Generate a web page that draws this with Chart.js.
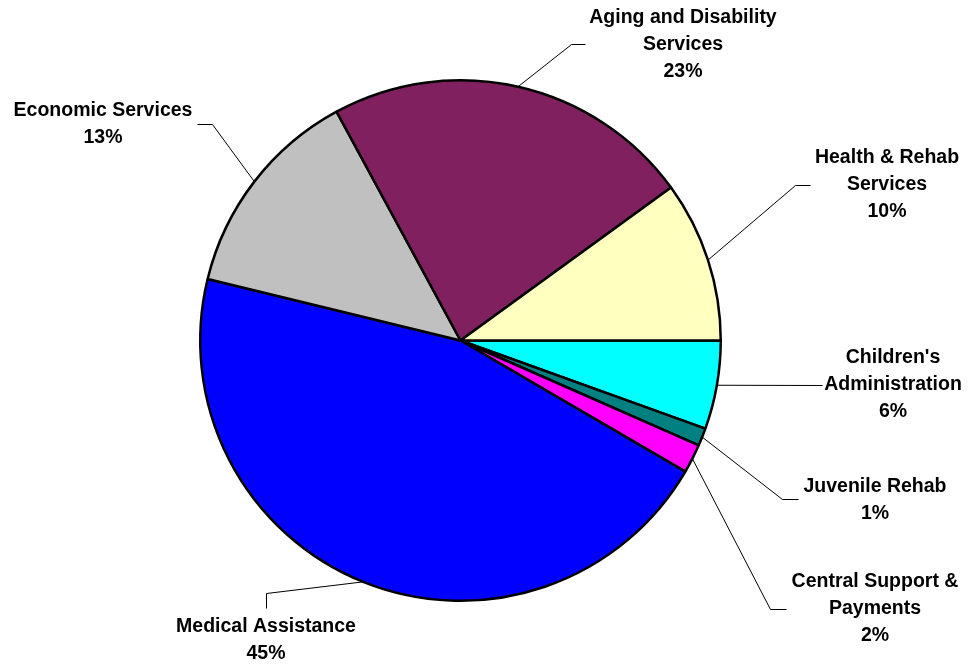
<!DOCTYPE html>
<html>
<head>
<meta charset="utf-8">
<script src="https://cdn.jsdelivr.net/npm/chart.js@4.4.1/dist/chart.umd.min.js"></script>
<style>
    html, body { margin: 0; padding: 0; background: #fff; }
    #wrap { width: 968px; height: 664px; }
</style>
</head>
<body>
<div id="wrap"><canvas id="budgetPie" width="968" height="664"></canvas></div>
<script>
// slices clockwise from 3 o'clock
const categories = [
    ["Children's", 'Administration'],
    ['Juvenile Rehab'],
    ['Central Support &', 'Payments'],
    ['Medical Assistance'],
    ['Economic Services'],
    ['Aging and Disability', 'Services'],
    ['Health & Rehab', 'Services'],
];
const shares = [5.5, 1.1, 1.8, 45.4, 13.3, 22.9, 10.0];
const sliceColors = ['#00FFFF', '#008080', '#FF00FF', '#0000FF', '#C0C0C0', '#80205F', '#FFFFC0'];

// where each label sits, and the bends of its leader line (from the slice edge outwards)
const labelSpots = [
    { x: 893, y: 358, bends: [[822, 385]] },
    { x: 875, y: 487, bends: [[782, 499], [798, 499]] },
    { x: 875, y: 582, bends: [[770, 609], [786, 609]] },
    { x: 266, y: 627, bends: [[266, 593], [266, 608]] },
    { x: 103, y: 111, bends: [[212, 124], [197, 124]] },
    { x: 683, y: 18,  bends: [[571, 44], [585, 44]] },
    { x: 887, y: 158, bends: [[795, 185], [810, 185]] },
];

const calloutPlugin = {
    id: 'callouts',
    afterDatasetsDraw(chart) {
        const ctx = chart.ctx;
        const meta = chart.getDatasetMeta(0);
        const total = shares.reduce((a, b) => a + b, 0);
        ctx.save();
        meta.data.forEach((arc, i) => {
            const spot = labelSpots[i];
            const p = arc.getProps(['x', 'y', 'startAngle', 'endAngle', 'outerRadius'], true);
            const mid = (p.startAngle + p.endAngle) / 2;
            const ax = p.x + Math.cos(mid) * p.outerRadius;
            const ay = p.y + Math.sin(mid) * p.outerRadius;

            ctx.strokeStyle = '#000';
            ctx.lineWidth = 1;
            ctx.beginPath();
            ctx.moveTo(ax, ay);
            spot.bends.forEach(b => ctx.lineTo(b[0] + 0.5, b[1] + 0.5));
            ctx.stroke();

            const lines = categories[i].concat([Math.round(shares[i] / total * 100) + '%']);
            ctx.fillStyle = '#000';
            ctx.font = 'bold 19.5px "Liberation Sans", Arial, sans-serif';
            ctx.textAlign = 'center';
            ctx.textBaseline = 'middle';
            lines.forEach((t, j) => ctx.fillText(t, spot.x, spot.y + j * 27));
        });
        ctx.restore();
    }
};

new Chart(document.getElementById('budgetPie'), {
    type: 'pie',
    data: {
        labels: categories,
        datasets: [{
            data: shares,
            backgroundColor: sliceColors,
            borderColor: '#000',
            borderWidth: 2.5,
        }],
    },
    options: {
        responsive: false,
        animation: false,
        rotation: 90,
        layout: { padding: { left: 199, right: 246, top: 79, bottom: 62 } },
        plugins: {
            legend: { display: false },
            tooltip: { enabled: false },
        },
    },
    plugins: [calloutPlugin],
});
</script>
</body>
</html>
